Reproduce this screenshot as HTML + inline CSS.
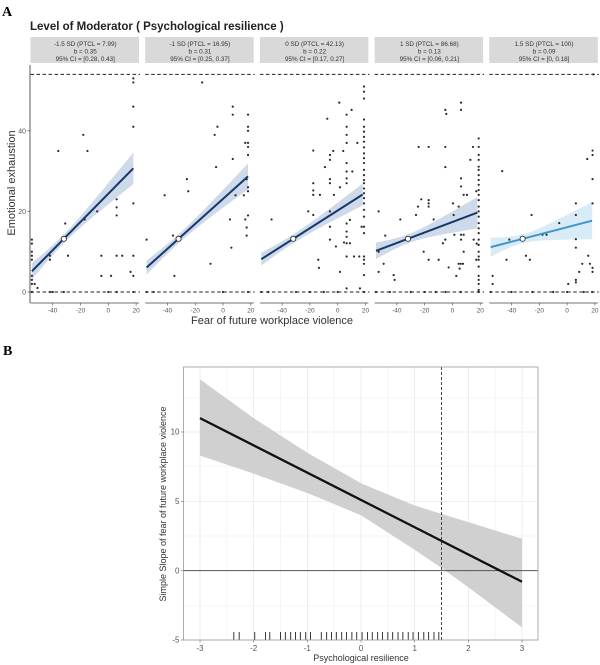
<!DOCTYPE html>
<html><head><meta charset="utf-8"><style>
html,body{margin:0;padding:0;background:#fff;}
svg{display:block;font-family:"Liberation Sans",sans-serif;}
</style></head><body>
<svg id="chart" width="600" height="665" viewBox="0 0 600 665">
<text x="2" y="16" font-family="Liberation Serif,serif" font-weight="bold" font-size="14">A</text>
<text x="30" y="30" font-weight="bold" font-size="11.5" fill="#222">Level of Moderator ( Psychological resilience )</text>
<text x="272" y="324" text-anchor="middle" font-size="11" fill="#333">Fear of future workplace violence</text>
<text transform="translate(15,183) rotate(-90)" text-anchor="middle" font-size="11" fill="#333">Emotional exhaustion</text>
<text x="3" y="355" font-family="Liberation Serif,serif" font-weight="bold" font-size="14">B</text>
<g id="ga"></g><g id="gb"></g>
</svg>
<script>
// ---------- Panel A data ----------
const stripLabels = ["-1.5 SD (PTCL = 7.99)","-1 SD (PTCL = 16.95)","0 SD (PTCL = 42.13)","1 SD (PTCL = 86.68)","1.5 SD (PTCL = 100)"];
const slopes = [0.35, 0.31, 0.22, 0.13, 0.09];
const ciLow = [0.28, 0.25, 0.17, 0.06, 0];
const ciHigh = [0.43, 0.37, 0.27, 0.21, 0.18];
const centerX = -32, centerY = 13.2;
const xTicksA = [-40, -20, 0, 20];
const yTicksA = [0, 20, 40];
const refLines = [0, 54];
const pts1 = [[-55,13],[-55,12],[-55,10],[-55,9],[-55,8],[-55,4],[-55,3],[-55,2],[-55,0],[-53,2],[-51,1],[-42,9],[-42,8],[-42,0],[-36,35],[-32,0],[-31,17],[-29,9],[-33,13],[-17,18],[-15,35],[-18,39],[-8,20],[-5,9],[-5,4],[2,4],[6,23],[6,21],[6,19],[6,9],[10,9],[16,5],[18,22],[18,9],[18,4],[18,0],[18,53],[18,52],[18,46],[18,41],[0,0],[6,0],[-40,0]];
const pts2 = [[-55,13],[-55,0],[-50,0],[-42,24],[-36,14],[-35,4],[-26,28],[-25,25],[-15,52],[-9,7],[-5,31],[-4,41],[-6,39],[5,18],[6,11],[7,33],[7,46],[7,44],[9,24],[15,24],[16,18],[17,16],[17,14],[17,28],[16,37],[18,34],[18,25],[18,26],[18,19],[18,44],[18,41],[18,40],[18,37],[18,36],[0,0],[18,0]];
const pts3 = [[-47.6,18],[-21.2,20],[-17.6,35.1],[-17.6,27],[-17.6,25.2],[-17.6,24.1],[-12.8,24.1],[-14,8],[-13.5,6],[-17.6,19.1],[-9.2,31],[-7.5,43],[-5.6,34],[-5.6,32.8],[-5.6,28],[-5.6,27],[-5.6,20],[-5.6,16.2],[-5.6,13],[-2.7,24.1],[-3.2,35],[-1.3,11.3],[1.1,47],[1.6,26],[1.6,5],[4,35],[4.5,12.3],[6.4,44],[6.4,41],[6.4,39],[6.4,37],[6.4,32],[6.4,29.9],[6.4,28.2],[6.4,27],[6.4,17],[6.4,15],[6.4,13.7],[6.4,12.1],[6.4,8.8],[6.4,0.9],[8.8,12.1],[10,45.2],[8.8,17.9],[10.5,29.9],[11.7,8.8],[14.1,37],[15.5,8.8],[16,0.9],[17.2,16.2],[18.9,51],[18.9,49.7],[18.9,48],[18.9,42.8],[18.9,41],[18.9,39.8],[18.9,38.5],[18.9,37.3],[18.9,35.9],[18.9,34.4],[18.9,33.2],[18.9,32],[18.9,30.3],[18.9,29],[18.9,27.8],[18.9,27],[18.9,25.7],[18.9,24.5],[18.9,23.3],[18.9,22],[18.9,20.4],[18.9,18.7],[18.9,16.2],[18.9,14.6],[18.9,8.8],[18.9,8],[18.9,7],[18.9,4.2],[-55,0],[-50,0],[-30,0],[-20,0],[-10,0],[0,0],[18.9,0]];
const pts4 = [[-53.1,20],[-53.1,10],[-53.1,5],[-48.3,14],[-49.5,7],[-42.3,4.2],[-41.6,3],[-37.5,18],[-26.2,19.1],[-24.3,36],[-24.8,21.2],[-22.4,23],[-20.7,10],[-17.1,36],[-17.1,22.8],[-17.1,22],[-17.1,21.2],[-17.1,8],[-13.5,18],[-9.9,8],[-6.8,12.1],[-5.1,45.2],[-4.4,44.2],[-5.1,36],[-5.1,31],[-5.1,13],[-2.7,6.1],[0.4,22],[0.9,19.1],[1.4,14.2],[2.8,4],[4.5,21.2],[4.5,7],[6,7],[7.6,7],[5.2,5.8],[6.2,47],[6.2,45.2],[6.2,28.2],[6.2,26.2],[6.2,14.2],[6.2,13],[8.1,24.1],[8.1,14.2],[8.1,10],[10.5,24.1],[12.9,32.8],[14.8,36],[15.3,13],[17.2,25],[17.2,8],[17.5,12],[18.9,38.1],[18.9,36],[18.9,34],[18.9,32.8],[18.9,31.1],[18.9,30.3],[18.9,29],[18.9,27.8],[18.9,26.6],[18.9,25.3],[18.9,24.1],[18.9,22.8],[18.9,21.2],[18.9,20],[18.9,18.7],[18.9,17.1],[18.9,15.8],[18.9,14.6],[18.9,13],[18.9,11.7],[18.9,10],[18.9,8.8],[18.9,8],[18.9,6.3],[18.9,4],[18.9,3],[18.9,2],[18.9,0.5],[-55,0],[-45,0],[-30,0],[-20,0],[-12,0],[-5,0],[6,0],[18.9,0]];
const pts5 = [[-53.6,4],[-53.6,2],[-46.7,30],[-43.6,8],[-41.6,13],[-29.6,9],[-26.8,8],[-25.6,19.1],[-17.7,14.2],[-14.8,14.2],[-5.7,17.1],[0.8,2],[6.3,22],[6.3,19.1],[6.3,13.1],[6.3,11],[6.3,3],[6.3,2.4],[8.7,5],[10.9,7],[14.5,33],[15.2,9],[16.4,7],[18.3,35.1],[18.3,34],[18.3,28],[18.3,22],[18.3,6],[18.3,5],[-55,0],[-40,0],[-25,0],[-10,0],[0,0],[12,0],[18,0],[18.9,54]];
const panelPoints = [pts1, pts2, pts3, pts4, pts5];
const lineX = [-55, 18];

// ---------- Panel B data ----------
const modX = [-3, -2, -1, 0, 1, 1.5, 2, 3];
const bandUpper = [13.8, 11.0, 8.5, 6.3, 4.7, 4.1, 3.5, 2.3];
const bandLower = [8.3, 7.0, 5.6, 4.0, 1.5, 0.2, -1.2, -4.1];
const slopeLineX = [-3, 3];
const slopeLineY = [11.0, -0.8];
const jnPoint = 1.5;
const xTicksB = [-3, -2, -1, 0, 1, 2, 3];
const yTicksB = [-5, 0, 5, 10];
const rugValues = [-2.37,-2.27,-1.98,-1.78,-1.7,-1.5,-1.41,-1.31,-1.22,-1.13,-1.03,-0.94,-0.74,-0.64,-0.55,-0.46,-0.36,-0.27,-0.17,-0.08,0.02,0.12,0.21,0.31,0.4,0.5,0.59,0.69,0.78,0.88,0.97,1.07,1.17,1.26,1.36,1.45];

const NS = "http://www.w3.org/2000/svg";
function mk(tag, attrs, parent){const e=document.createElementNS(NS,tag);for(const k in attrs)e.setAttribute(k,attrs[k]);parent.appendChild(e);return e;}

// ---------- Panel A ----------
const ga = document.getElementById('ga');
const panelLefts = [30.5, 145.2, 259.9, 374.6, 489.3];
const panelW = 109.5, plotTop = 65, plotBot = 303;
const xMinA = -56, xMaxA = 22.8;
const yA = v => 292 - v * 4.03;
mk('line',{x1:30,y1:plotTop,x2:30,y2:plotBot,stroke:'#333','stroke-width':0.8},ga);
yTicksA.forEach(t=>{
  const tk=mk('line',{x1:27.5,y1:yA(t),x2:30,y2:yA(t),stroke:'#333','stroke-width':0.6},ga);
  
  
  const tl=mk('text',{x:26,y:yA(t)+2.5,'text-anchor':'end','font-size':7,fill:'#555'},ga);
  tl.textContent=t;
  
  
});
panelPoints.forEach((pts,i)=>{
  const L=panelLefts[i];
  const xA=v=>L+(v-xMinA)*panelW/(xMaxA-xMinA);
  const g=mk('g',{},ga);
  
  
  const sr=mk('rect',{x:L,y:37,width:panelW-1,height:26,fill:'#d9d9d9'},g);
  
  
  const lines=[stripLabels[i],'b = '+slopes[i],'95% CI = ['+ciLow[i]+', '+ciHigh[i]+']'];
  lines.forEach((s,j)=>{
    const t=mk('text',{x:L+panelW/2,y:46+j*7.5,'text-anchor':'middle','font-size':6.3,fill:'#333'},g);
    t.textContent=s;
    
    
  });
  const blue = i===4 ? '#3d95cc' : '#16386a';
  const bandCol = i===4 ? '#d6e9f7' : '#c9d6e8';
  const hw=(x,k)=>Math.sqrt(1.1*1.1+Math.pow(((ciHigh[k]-ciLow[k])/2)*(x-centerX),2));
  const fit=x=>centerY+slopes[i]*(x-centerX);
  let up=[],lo=[];
  for(let s=0;s<=20;s++){const x=lineX[0]+(lineX[1]-lineX[0])*s/20;up.push(xA(x)+','+yA(fit(x)+hw(x,i)));lo.unshift(xA(x)+','+yA(fit(x)-hw(x,i)));}
  const band=mk('polygon',{points:up.concat(lo).join(' '),fill:bandCol,opacity:0.9},g);
  
  
  refLines.forEach(r=>{
    const rl=mk('line',{x1:L,x2:L+panelW,y1:yA(r),y2:yA(r),stroke:'#222','stroke-width':0.9,'stroke-dasharray':'3.5,2.5'},g);
    
    
  });
  pts.forEach(p=>{
    const c=mk('circle',{cx:xA(p[0]),cy:yA(p[1]),r:1.1,fill:'#2a2a2a'},g);
    
    
  });
  const fl=mk('line',{x1:xA(lineX[0]),y1:yA(fit(lineX[0])),x2:xA(lineX[1]),y2:yA(fit(lineX[1])),stroke:blue,'stroke-width':2},g);
  
  
  const cp=mk('circle',{cx:xA(centerX),cy:yA(centerY),r:2.6,fill:'#fff',stroke:'#222','stroke-width':0.8},g);
  
  
  const ax=mk('line',{x1:L,x2:L+panelW-1,y1:plotBot,y2:plotBot,stroke:'#444','stroke-width':0.8},g);
  
  
  xTicksA.forEach(t=>{
    const tk=mk('line',{x1:xA(t),x2:xA(t),y1:plotBot,y2:plotBot+2.5,stroke:'#444','stroke-width':0.6},g);
    
    
    const tl=mk('text',{x:xA(t),y:plotBot+9.5,'text-anchor':'middle','font-size':6.5,fill:'#555'},g);
    tl.textContent=t;
    
    
  });
});

// ---------- Panel B ----------
const gb=document.getElementById('gb');
const bx0=183.5,bx1=538,by0=367,by1=640;
const xB=v=>200+(v+3)*(522-200)/6;
const yB=v=>640-(v+5)*(640-432)/15;
for(let v=-3;v<=3.01;v+=0.5){const gl=mk('line',{x1:xB(v),x2:xB(v),y1:by0,y2:by1,stroke:Number.isInteger(v)?'#e6e6e6':'#f2f2f2','stroke-width':0.7},gb);}
for(let v=-5;v<=12.5;v+=2.5){const gl=mk('line',{x1:bx0,x2:bx1,y1:yB(v),y2:yB(v),stroke:v%5===0?'#e6e6e6':'#f2f2f2','stroke-width':0.7},gb);}
let bu=[],bl=[];
modX.forEach((x,k)=>{bu.push(xB(x)+','+yB(bandUpper[k]));bl.unshift(xB(x)+','+yB(bandLower[k]));});
const bb=mk('polygon',{points:bu.concat(bl).join(' '),fill:'#c8c8c8',opacity:0.85},gb);


const zl=mk('line',{x1:bx0,x2:bx1,y1:yB(0),y2:yB(0),stroke:'#555','stroke-width':1},gb);


const vl=mk('line',{x1:xB(jnPoint),x2:xB(jnPoint),y1:by0,y2:by1,stroke:'#444','stroke-width':1,'stroke-dasharray':'3,2'},gb);


const sl=mk('line',{x1:xB(slopeLineX[0]),y1:yB(slopeLineY[0]),x2:xB(slopeLineX[1]),y2:yB(slopeLineY[1]),stroke:'#111','stroke-width':2.3},gb);


rugValues.forEach(v=>{
  const r=mk('line',{x1:xB(v),x2:xB(v),y1:by1-8,y2:by1,stroke:'#222','stroke-width':0.9},gb);
  
  
});
const fr=mk('rect',{x:bx0,y:by0,width:bx1-bx0,height:by1-by0,fill:'none',stroke:'#999','stroke-width':0.8},gb);


xTicksB.forEach(t=>{
  const tk=mk('line',{x1:xB(t),x2:xB(t),y1:by1,y2:by1+2.5,stroke:'#666','stroke-width':0.6},gb);
  
  
  const tl=mk('text',{x:xB(t),y:by1+11,'text-anchor':'middle','font-size':8,fill:'#555'},gb);
  tl.textContent=t;
  
  
});
yTicksB.forEach(t=>{
  const tk=mk('line',{x1:bx0-2.5,x2:bx0,y1:yB(t),y2:yB(t),stroke:'#666','stroke-width':0.6},gb);
  
  
  const tl=mk('text',{x:bx0-4,y:yB(t)+2.7,'text-anchor':'end','font-size':8,fill:'#555'},gb);
  tl.textContent=t;
  
  
});
const xt=mk('text',{x:361,y:661,'text-anchor':'middle','font-size':9,fill:'#333'},gb);
xt.textContent='Psychological resilience';


const yt=mk('text',{transform:'translate(166,504) rotate(-90)','text-anchor':'middle','font-size':9,fill:'#333'},gb);
yt.textContent='Simple Slope of  fear of future workplace violence';


</script>
</body></html>
